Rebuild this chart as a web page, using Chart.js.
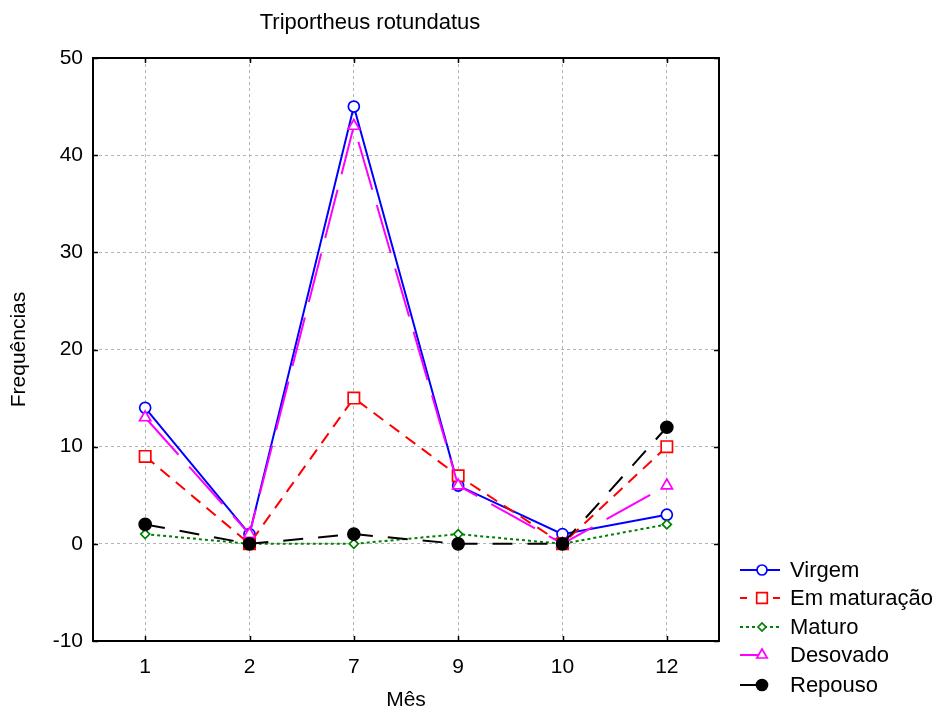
<!DOCTYPE html>
<html>
<head>
<meta charset="utf-8">
<script src="https://cdn.jsdelivr.net/npm/chart.js@4.4.1/dist/chart.umd.min.js"></script>
<style>
  html, body { margin: 0; padding: 0; background: #fff; }
</style>
</head>
<body>
<canvas id="myChart" width="934" height="713"></canvas>
<script>
const meses = ['1', '2', '7', '9', '10', '12'];
const virgem = [14, 1, 45, 6, 1, 3];
const emMaturacao = [9, 0, 15, 7, 0, 10];
const maturo = [1, 0, 0, 1, 0, 2];
const desovado = [13, 1, 43, 6, 0, 6];
const repouso = [2, 0, 1, 0, 0, 12];
const yMin = -10, yMax = 50, yStep = 10;

const FONT = 'Liberation Sans, Arial, sans-serif';
const FS = 21;

function serie(label, data, color, dash, legendDash, style, radius, fill) {
    return {
        label: label,
        data: data,
        borderColor: color,
        borderWidth: 2,
        borderDash: dash,
        legendDash: legendDash,
        pointStyle: style,
        pointRadius: radius,
        pointHoverRadius: radius,
        pointBorderWidth: 1.7,
        pointBorderColor: color,
        pointBackgroundColor: fill,
        tension: 0,
        fill: false
    };
}

const datasets = [
    serie('Virgem', virgem, '#0000ff', [], [], 'circle', 5.5, '#fff'),
    serie('Em maturação', emMaturacao, '#ff0000', [12, 8], [7, 26], 'rect', 8, '#fff'),
    serie('Maturo', maturo, '#008000', [3, 3], [3, 3], 'rectRot', 4.5, '#fff'),
    serie('Desovado', desovado, '#ff00ff', [50, 16], [22, 100], 'triangle', 6.5, '#fff'),
    serie('Repouso', repouso, '#000000', [20, 15], [22, 100], 'circle', 6, '#000')
];
// last series drawn on top
datasets.forEach((d, i) => { d.order = datasets.length - 1 - i; });

// frame, inward ticks, titles and legend
const moldura = {
    id: 'moldura',
    afterDraw(chart) {
        const ctx = chart.ctx;
        const a = chart.chartArea;
        const x = chart.scales.x, y = chart.scales.y;
        ctx.save();

        ctx.strokeStyle = '#000';
        ctx.lineWidth = 1.5;
        ctx.setLineDash([]);
        ctx.beginPath();
        for (let i = 0; i < meses.length; i++) {
            const px = Math.round(x.getPixelForValue(i)) + 0.5;
            ctx.moveTo(px, a.bottom); ctx.lineTo(px, a.bottom - 5);
            ctx.moveTo(px, a.top); ctx.lineTo(px, a.top + 5);
        }
        for (let v = yMin; v <= yMax; v += yStep) {
            const py = Math.round(y.getPixelForValue(v)) + 0.5;
            ctx.moveTo(a.left, py); ctx.lineTo(a.left + 5, py);
            ctx.moveTo(a.right, py); ctx.lineTo(a.right - 5, py);
        }
        ctx.stroke();

        ctx.lineWidth = 2;
        ctx.strokeRect(a.left, a.top, a.right - a.left, a.bottom - a.top);

        ctx.fillStyle = '#000';
        ctx.textAlign = 'center';
        ctx.textBaseline = 'middle';
        ctx.font = '22px ' + FONT;
        ctx.fillText('Triportheus rotundatus', 370, 23);
        ctx.font = FS + 'px ' + FONT;
        ctx.fillText('Mês', (a.left + a.right) / 2, 700);
        ctx.save();
        ctx.translate(19, (a.top + a.bottom) / 2);
        ctx.rotate(-Math.PI / 2);
        ctx.fillText('Frequências', 0, 0);
        ctx.restore();

        // legend
        const x0 = 740, x1 = 780, xm = 762, xt = 790;
        const rows = [570, 598, 627, 655, 685];
        ctx.font = '22px ' + FONT;
        chart.data.datasets.forEach((d, i) => {
            const ry = rows[i];
            ctx.strokeStyle = d.borderColor;
            ctx.lineWidth = 2;
            ctx.setLineDash(d.legendDash);
            ctx.beginPath();
            ctx.moveTo(x0, ry); ctx.lineTo(x1, ry);
            ctx.stroke();
            ctx.setLineDash([]);
            ctx.fillStyle = d.pointBackgroundColor;
            ctx.strokeStyle = d.pointBorderColor;
            ctx.lineWidth = d.pointBorderWidth;
            Chart.helpers.drawPoint(ctx, {
                pointStyle: d.pointStyle, radius: d.pointRadius - 0.5,
                rotation: 0, borderWidth: d.pointBorderWidth
            }, xm, ry);
            ctx.fillStyle = '#000';
            ctx.textAlign = 'left';
            ctx.textBaseline = 'middle';
            ctx.fillText(d.label, xt, ry + 1);
        });
        ctx.restore();
    }
};

const ctx = document.getElementById('myChart').getContext('2d');

const chart = new Chart(ctx, {
    type: 'line',
    data: {
        labels: meses,
        datasets: datasets
    },
    options: {
        responsive: false,
        animation: false,
        events: [],
        layout: {
            padding: { top: 58, right: 215, left: 0, bottom: 0 }
        },
        plugins: {
            legend: { display: false },
            title: { display: false },
            tooltip: { enabled: false }
        },
        scales: {
            x: {
                offset: true,
                grid: {
                    offset: false,
                    color: '#b4b4b4',
                    lineWidth: 1,
                    drawTicks: false
                },
                border: { display: false, dash: [3, 3] },
                ticks: {
                    color: '#000',
                    font: { family: FONT, size: FS },
                    padding: 14,
                    maxRotation: 0
                },
                afterFit(s) { s.height = 72; }
            },
            y: {
                min: yMin,
                max: yMax,
                grid: {
                    color: '#b4b4b4',
                    lineWidth: 1,
                    drawTicks: false
                },
                border: { display: false, dash: [3, 3] },
                ticks: {
                    stepSize: yStep,
                    color: '#000',
                    font: { family: FONT, size: FS },
                    padding: 10
                },
                afterFit(s) { s.width = 93; }
            }
        }
    },
    plugins: [moldura]
});
</script>
</body>
</html>
